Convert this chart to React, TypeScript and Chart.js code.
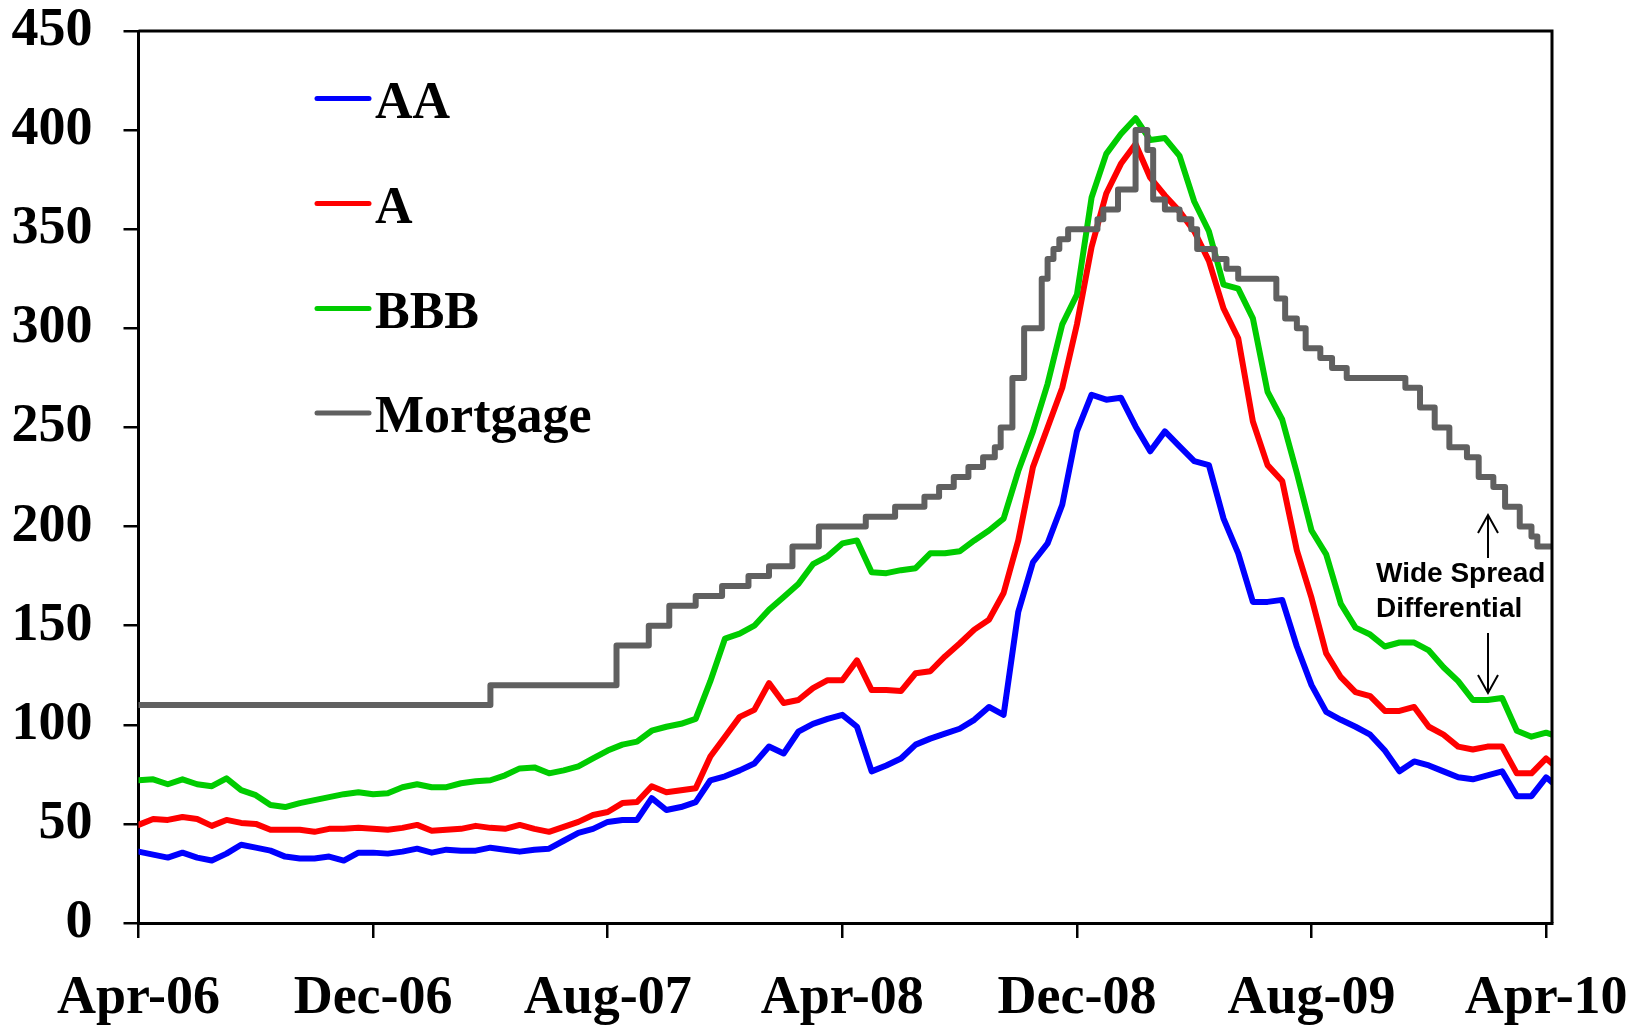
import React, { useEffect, useRef } from "react";
import { Chart, registerables } from "chart.js";

Chart.register(...registerables);

// x positions: months since Apr-06 (half-month grid, last point = right edge)
const gridMonths: number[] = [...Array.from({ length: 97 }, (_, i) => i / 2), 48.2];

const xTickMonths = [0, 8, 16, 24, 32, 40, 48];
const xTickLabels = ["Apr-06", "Dec-06", "Aug-07", "Apr-08", "Dec-08", "Aug-09", "Apr-10"];

const seriesNames = ["AA", "A", "BBB", "Mortgage"];
const seriesColors = ["#0000FF", "#FF0000", "#00CC00", "#606060"];

const aaValues = [
  36, 34.5, 33, 35.5, 33, 31.5, 35, 39.5,
  38, 36.5, 33.5, 32.5, 32.5, 33.5, 31.5, 35.5,
  35.5, 35, 36, 37.5, 35.5, 37, 36.5, 36.5,
  38, 37, 36, 37, 37.5, 41.5, 45.5, 47.5,
  51, 52, 52, 63, 57, 58.5, 61, 72,
  74, 77, 80.5, 89, 85.5, 96.5, 100.5, 103,
  105, 99, 76.5, 79.5, 83, 90, 93, 95.5,
  98, 102.5, 109, 105, 157, 182, 191.5, 211,
  248, 266.5, 264, 265, 250.5, 238, 248, 240.5,
  233, 231, 204, 186.5, 162, 162, 163, 139.5,
  120, 106.5, 102.5, 99, 95, 87, 76.5, 81.5,
  79.5, 76.5, 73.5, 72.5, 74.5, 76.5, 64, 64,
  73.5, 71,
];

const aValues = [
  49.5, 52.5, 52, 53.5, 52.5, 49, 52, 50.5,
  50, 47, 47, 47, 46, 47.5, 47.5, 48,
  47.5, 47, 48, 49.5, 46.5, 47, 47.5, 49,
  48, 47.5, 49.5, 47.5, 46, 48.5, 51, 54.5,
  56, 60.5, 61, 69, 66, 67, 68, 84,
  94, 104, 107.5, 121, 111, 112.5, 118.5, 122.5,
  122.5, 132.5, 117.5, 117.5, 117, 126, 127, 134.5,
  141, 148, 153, 166.5, 193, 230, 250, 270,
  302, 341, 368, 383, 393, 376, 367, 359,
  349, 334, 310, 295, 253, 231, 223, 188,
  164, 136, 124, 116.5, 114.5, 107, 107, 109,
  99, 95, 89, 87.5, 89, 89, 75.5, 75.5,
  83, 80.5,
];

const bbbValues = [
  72, 72.5, 70, 72.5, 70, 69, 73, 67,
  64.5, 59.5, 58.5, 60.5, 62, 63.5, 65, 66,
  65, 65.5, 68.5, 70, 68.5, 68.5, 70.5, 71.5,
  72, 74.5, 78, 78.5, 75.5, 77, 79, 83,
  87, 90, 91.5, 97, 99, 100.5, 103, 122,
  143.5, 146, 150, 158, 164.5, 171, 181, 185,
  191.5, 193, 177, 176.5, 178, 179, 186.5, 186.5,
  187.5, 193, 198, 204, 228, 248, 272, 302,
  317, 366, 388, 398, 406, 395, 396, 387,
  364, 349, 322, 320, 305, 268, 254, 227,
  198, 186, 161, 149, 145.5, 139.5, 141.5, 141.5,
  137.5, 129, 122, 112.5, 112.5, 113.5, 97, 94,
  96, 95,
];

// Mortgage spread: step changes (month where the new level starts)
const mortgageMonths = [
  0, 12.0, 16.3, 17.4, 18.1, 19.0, 19.9, 20.8, 21.5, 22.3, 23.2, 24.8, 25.8, 26.8, 27.3,
  27.8, 28.3, 28.8, 29.2, 29.4, 29.8, 30.2, 30.8, 31.0, 31.2, 31.4, 31.7, 32.7, 32.9, 33.4,
  34.0, 34.4, 34.6, 35.0, 35.5, 35.9, 36.1, 36.7, 37.1, 37.5, 38.8, 39.1, 39.5, 39.8, 40.3,
  40.7, 41.2, 43.2, 43.7, 44.2, 44.7, 45.3, 45.7, 46.2, 46.6, 47.1, 47.5, 47.7, 48.2,
];
const mortgageValues = [
  110, 120, 140, 150, 160, 165, 170, 175, 180, 190, 200, 205, 210, 215, 220,
  225, 230, 235, 240, 250, 275, 300, 325, 335, 340, 345, 350, 355, 360, 370,
  400, 390, 365, 360, 355, 350, 340, 335, 330, 325, 315, 305, 300, 290, 285,
  280, 275, 270, 260, 250, 240, 235, 225, 220, 210, 200, 195, 190, 190,
];

const annotationLines = ["Wide Spread", "Differential"];

const SERIF = '"Liberation Serif", "Times New Roman", serif';
const SANS = '"Liberation Sans", Arial, sans-serif';

const overlayPlugin = {
  id: "overlay",
  afterDraw(chart: any) {
    const { ctx, chartArea } = chart;
    const { left, right, top, bottom } = chartArea;
    ctx.save();
    // frame (top + right)
    ctx.strokeStyle = "#000";
    ctx.lineWidth = 3;
    ctx.beginPath();
    ctx.moveTo(left, top);
    ctx.lineTo(right, top);
    ctx.lineTo(right, bottom);
    ctx.stroke();

    // legend
    const rowY = [98.5, 203.5, 308.5, 413];
    ctx.lineCap = "round";
    ctx.lineWidth = 5;
    ctx.font = `bold 52px ${SERIF}`;
    ctx.textAlign = "left";
    ctx.textBaseline = "alphabetic";
    for (let i = 0; i < seriesNames.length; i++) {
      ctx.strokeStyle = seriesColors[i];
      ctx.beginPath();
      ctx.moveTo(317, rowY[i]);
      ctx.lineTo(369, rowY[i]);
      ctx.stroke();
      ctx.fillStyle = "#000";
      ctx.fillText(seriesNames[i], 375, rowY[i] + 19);
    }

    // annotation
    ctx.font = `bold 28px ${SANS}`;
    ctx.fillStyle = "#000";
    ctx.fillText(annotationLines[0], 1376, 582);
    ctx.fillText(annotationLines[1], 1376, 617);
    ctx.strokeStyle = "#000";
    ctx.lineWidth = 2;
    ctx.lineCap = "butt";
    const ax = 1488;
    ctx.beginPath();
    ctx.moveTo(ax, 558);
    ctx.lineTo(ax, 515);
    ctx.moveTo(ax - 10, 533);
    ctx.lineTo(ax, 515);
    ctx.lineTo(ax + 10, 533);
    ctx.moveTo(ax, 633);
    ctx.lineTo(ax, 693);
    ctx.moveTo(ax - 10, 675);
    ctx.lineTo(ax, 693);
    ctx.lineTo(ax + 10, 675);
    ctx.stroke();
    ctx.restore();
  },
};

export default function App() {
  const ref = useRef<HTMLCanvasElement>(null);

  useEffect(() => {
    const canvas = ref.current;
    if (!canvas) return;
    const toPts = (xs: number[], ys: number[]) => xs.map((x, i) => ({ x, y: ys[i] }));
    const lineStyle = {
      borderWidth: 6,
      pointRadius: 0,
      tension: 0,
      borderJoinStyle: "round" as const,
      borderCapStyle: "round" as const,
      fill: false,
    };
    const chart = new Chart(canvas, {
      type: "line",
      data: {
        datasets: [
          { label: seriesNames[3], data: toPts(mortgageMonths, mortgageValues), borderColor: seriesColors[3], stepped: true, ...lineStyle },
          { label: seriesNames[2], data: toPts(gridMonths, bbbValues), borderColor: seriesColors[2], ...lineStyle },
          { label: seriesNames[1], data: toPts(gridMonths, aValues), borderColor: seriesColors[1], ...lineStyle },
          { label: seriesNames[0], data: toPts(gridMonths, aaValues), borderColor: seriesColors[0], ...lineStyle },
        ],
      },
      options: {
        responsive: false,
        animation: false,
        layout: { padding: { top: 31, right: 81, left: 0, bottom: 0 } },
        plugins: { legend: { display: false }, tooltip: { enabled: false } },
        scales: {
          x: {
            type: "linear",
            min: 0,
            max: 48.2,
            afterBuildTicks: (s: any) => {
              s.ticks = xTickMonths.map((v) => ({ value: v }));
            },
            afterFit: (s: any) => {
              s.height = 105;
              s.paddingLeft = 0;
              s.paddingRight = 0;
            },
            ticks: {
              autoSkip: false,
              maxRotation: 0,
              minRotation: 0,
              padding: 34,
              color: "#000",
              font: { family: SERIF, size: 54, weight: "bold", lineHeight: 1 },
              callback: (v: any) => {
                const i = xTickMonths.indexOf(Number(v));
                return i >= 0 ? xTickLabels[i] : "";
              },
            },
            grid: { drawOnChartArea: false, drawTicks: true, tickLength: 15, color: "#000", lineWidth: 2.5 },
            border: { display: true, color: "#000", width: 3 },
          },
          y: {
            min: 0,
            max: 450,
            afterFit: (s: any) => {
              s.width = 138.5;
              s.paddingTop = 0;
              s.paddingBottom = 0;
            },
            ticks: {
              stepSize: 50,
              padding: 31,
              color: "#000",
              font: { family: SERIF, size: 54, weight: "bold", lineHeight: 1 },
            },
            grid: { drawOnChartArea: false, drawTicks: true, tickLength: 15, color: "#000", lineWidth: 2.5 },
            border: { display: true, color: "#000", width: 3 },
          },
        },
      },
      plugins: [overlayPlugin],
    });
    return () => chart.destroy();
  }, []);

  return (
    <div style={{ position: "absolute", left: 0, top: 0, width: 1633, height: 1028, background: "#fff" }}>
      <canvas ref={ref} width={1633} height={1028} style={{ display: "block" }} />
    </div>
  );
}
